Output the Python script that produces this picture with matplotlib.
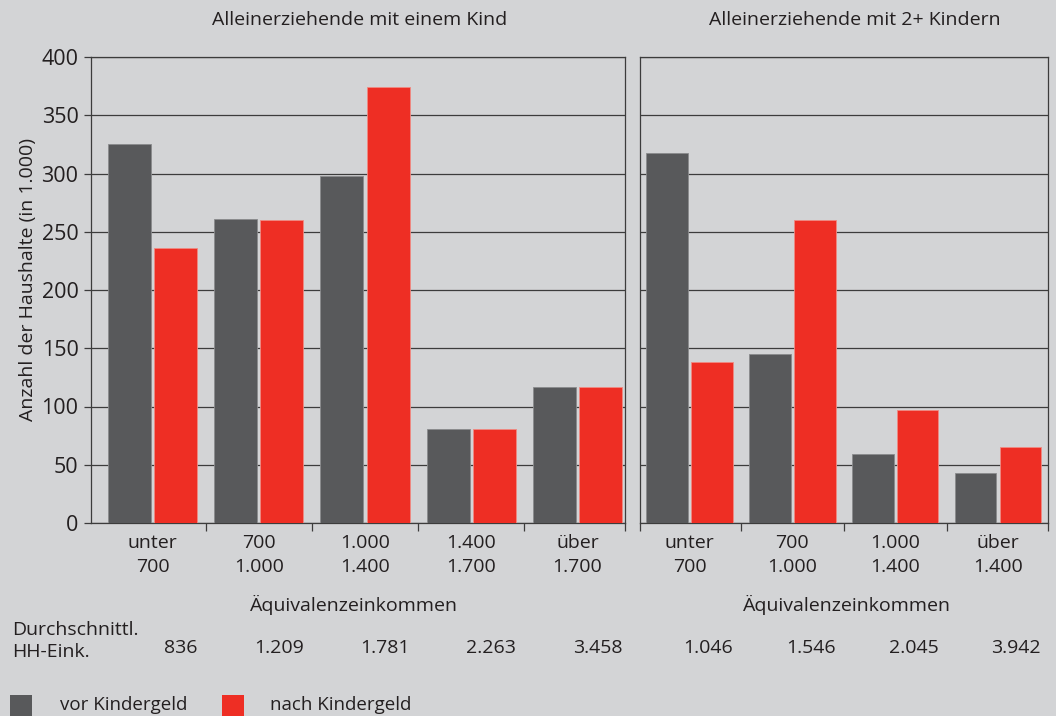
import matplotlib
matplotlib.use("Agg")
import matplotlib.pyplot as plt
from matplotlib.patches import Rectangle
import matplotlib.transforms as mtransforms

plt.rcParams['font.family'] = ['Open Sans', 'DejaVu Sans']

# ---- data ----
titles = ["Alleinerziehende mit einem Kind", "Alleinerziehende mit 2+ Kindern"]
cats_left = ["unter\n700", "700\n1.000", "1.000\n1.400", "1.400\n1.700", "über\n1.700"]
cats_right = ["unter\n700", "700\n1.000", "1.000\n1.400", "über\n1.400"]
vor_left = [325, 261, 298, 81, 117]
nach_left = [236, 260, 374, 81, 117]
vor_right = [318, 145, 59, 43]
nach_right = [138, 260, 97, 65]
avg_left = ["836", "1.209", "1.781", "2.263", "3.458"]
avg_right = ["1.046", "1.546", "2.045", "3.942"]
yticks = [0, 50, 100, 150, 200, 250, 300, 350, 400]
xlabel = "Äquivalenzeinkommen"
ylabel = "Anzahl der Haushalte (in 1.000)"
legend_labels = ["vor Kindergeld", "nach Kindergeld"]

BG = "#d3d4d6"
GRAY = "#58595b"
RED = "#ee2e24"
TXT = "#231f20"
LINE = "#3c3c3c"

W, H = 1056, 716
fig = plt.figure(figsize=(W / 100, H / 100), dpi=100, facecolor=BG)

def px_axes(x0, y0, x1, y1):
    return fig.add_axes([x0 / W, 1 - y1 / H, (x1 - x0) / W, (y1 - y0) / H])

FS = 14

def draw_panel(ax, cats, vor, nach, xlim, avg):
    ax.set_facecolor(BG)
    n = len(cats)
    xs = list(range(n))
    bw = 0.405
    off = 0.218
    ax.bar([x - off for x in xs], vor, width=bw, color=GRAY, edgecolor="#8a8b8d", linewidth=0.6, zorder=3)
    ax.bar([x + off for x in xs], nach, width=bw, color=RED, edgecolor="#f08a82", linewidth=0.6, zorder=3)
    ax.set_xlim(*xlim)
    ax.set_ylim(0, 400)
    ax.set_yticks(yticks)
    ax.yaxis.grid(True, color=LINE, linewidth=0.9, zorder=1)
    ax.set_axisbelow(True)
    for s in ax.spines.values():
        s.set_color(LINE)
        s.set_linewidth(0.9)
    # category boundary ticks
    bounds = [x + 0.5 for x in xs[:-1]] + [xlim[1]]
    ax.set_xticks(bounds)
    ax.set_xticklabels([])
    ax.tick_params(axis='x', which='major', length=6, color=LINE, width=0.9)
    ax.set_xticks(xs, minor=True)
    ax.set_xticklabels(cats, minor=True, fontsize=FS, color=TXT, linespacing=1.4)
    ax.tick_params(axis='x', which='minor', length=0, pad=8)
    # average income row
    trans = mtransforms.blended_transform_factory(ax.transData, fig.transFigure)
    for x, a in zip(xs, avg):
        ax.text(x + off + bw / 2, 1 - 648 / H, a, transform=trans, ha='right', va='center',
                fontsize=FS, color=TXT)

axL = px_axes(91, 57, 625, 523)
draw_panel(axL, cats_left, vor_left, nach_left, (-0.579, 4.447), avg_left)
axL.set_yticklabels([str(v) for v in yticks], fontsize=FS + 1.5, color=TXT)
axL.tick_params(axis='y', length=5, color=LINE, width=0.9, pad=4)

axR = px_axes(640, 57, 1048, 523)
draw_panel(axR, cats_right, vor_right, nach_right, (-0.4815, 3.487), avg_right)
axR.set_yticklabels([])
axR.tick_params(axis='y', length=0)
axR.set_xticks([-0.4815, 0.5, 1.5, 2.5, 3.487])
axR.set_xticklabels([])

# titles
fig.text(360 / W, 1 - 20 / H, titles[0], ha='center', va='center', fontsize=FS, color=TXT)
fig.text(855 / W, 1 - 20 / H, titles[1], ha='center', va='center', fontsize=FS, color=TXT)
# y label
fig.text(28 / W, 1 - 280 / H, ylabel, rotation=90, ha='center', va='center', fontsize=FS, color=TXT)
# x labels
fig.text(354 / W, 1 - 605 / H, xlabel, ha='center', va='center', fontsize=FS, color=TXT)
fig.text(847 / W, 1 - 605 / H, xlabel, ha='center', va='center', fontsize=FS, color=TXT)
# row label
fig.text(12 / W, 1 - 641 / H, "Durchschnittl.\nHH-Eink.", ha='left', va='center', fontsize=FS,
         color=TXT, linespacing=1.3)

# legend
for (x0, col, tx, lab) in [(10, GRAY, 60, legend_labels[0]), (222, RED, 270, legend_labels[1])]:
    fig.patches.append(Rectangle((x0 / W, 0), 22 / W, 21 / H, transform=fig.transFigure,
                                 facecolor=col, edgecolor='none'))
    fig.text(tx / W, 1 - 705 / H, lab, ha='left', va='center', fontsize=FS - 0.5, color=TXT)

fig.savefig("out.png", dpi=100, facecolor=BG)
